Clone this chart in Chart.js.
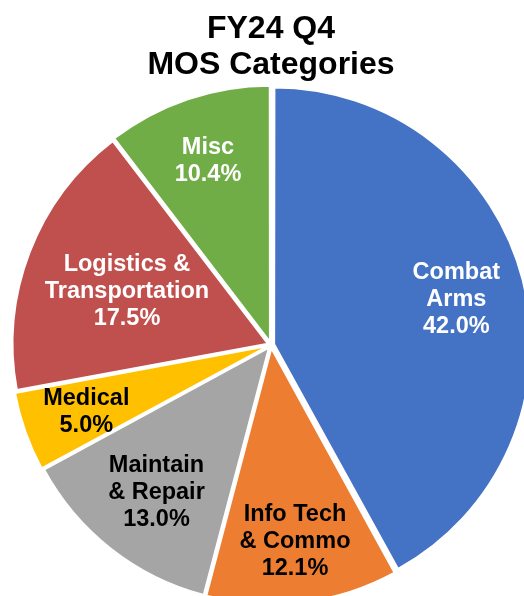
<!DOCTYPE html>
<html><head><meta charset="utf-8">
<script src="https://cdn.jsdelivr.net/npm/chart.js@4.4.0/dist/chart.umd.min.js"></script>
<style>
html,body{margin:0;padding:0;background:#fff;overflow:hidden;width:524px;height:596px}
#wrap{position:absolute;left:0;top:0;width:554px;height:610px}
</style></head>
<body><div id="wrap"><canvas id="c" width="554" height="610"></canvas></div>
<script>
const titleLines = ['FY24 Q4', 'MOS Categories'];
const categories = ['Combat Arms', 'Info Tech & Commo', 'Maintain & Repair', 'Medical', 'Logistics & Transportation', 'Misc'];
const labelLines = [['Combat', 'Arms'], ['Info Tech', '& Commo'], ['Maintain', '& Repair'], ['Medical'], ['Logistics &', 'Transportation'], ['Misc']];
const values = [42.0, 12.1, 13.0, 5.0, 17.5, 10.4];
const colors = ['#4472C4', '#ED7D31', '#A5A5A5', '#FFC000', '#C0504D', '#70AD47'];
const labelColors = ['#FFFFFF', '#000000', '#000000', '#000000', '#FFFFFF', '#FFFFFF'];

const sliceLabels = {
  id: 'sliceLabels',
  afterDatasetsDraw(chart) {
    const ctx = chart.ctx;
    const meta = chart.getDatasetMeta(0);
    const lh = 27, capH = 16.8;
    ctx.save();
    ctx.font = 'bold 23.5px "Liberation Sans", Arial, sans-serif';
    ctx.textAlign = 'center';
    ctx.textBaseline = 'alphabetic';
    meta.data.forEach((arc, i) => {
      const p = arc.getProps(['x', 'y', 'startAngle', 'endAngle', 'outerRadius'], true);
      const mid = (p.startAngle + p.endAngle) / 2;
      const lines = labelLines[i].concat([values[i].toFixed(1) + '%']);
      const w = Math.max(...lines.map(s => ctx.measureText(s).width));
      const hw = w / 2, hh = ((lines.length - 1) * lh + capH) / 2;
      const limit = p.outerRadius - 11;
      const dx = Math.cos(mid), dy = Math.sin(mid);
      const fits = (d) => {
        const cx = dx * d, cy = dy * d;
        return [[-hw, -hh], [hw, -hh], [-hw, hh], [hw, hh]].every(([a, b]) => Math.hypot(cx + a, cy + b) <= limit);
      };
      let d = p.outerRadius * 0.77;
      while (d > 0 && !fits(d)) d -= 0.5;
      const cx = p.x + dx * d, cy = p.y + dy * d;
      ctx.fillStyle = labelColors[i];
      lines.forEach((s, k) => ctx.fillText(s, cx, cy - hh + capH + k * lh));
    });
    ctx.restore();
  }
};

new Chart(document.getElementById('c'), {
  type: 'pie',
  data: {
    labels: categories,
    datasets: [{
      data: values,
      backgroundColor: colors,
      borderColor: '#FFFFFF',
      borderWidth: 2,
      offset: 13,
      hoverOffset: 0,
      clip: false
    }]
  },
  options: {
    responsive: false,
    animation: false,
    events: [],
    radius: 255,
    layout: { padding: { left: 0, right: 12, top: 0, bottom: 10 } },
    plugins: {
      legend: { display: false },
      tooltip: { enabled: false },
      title: {
        display: true,
        text: titleLines,
        color: '#000000',
        font: { family: '"Liberation Sans", Arial, sans-serif', size: 32, weight: 'bold', lineHeight: 1.125 },
        padding: { top: 11, bottom: 7 }
      }
    }
  },
  plugins: [sliceLabels]
});
</script>
</body></html>
